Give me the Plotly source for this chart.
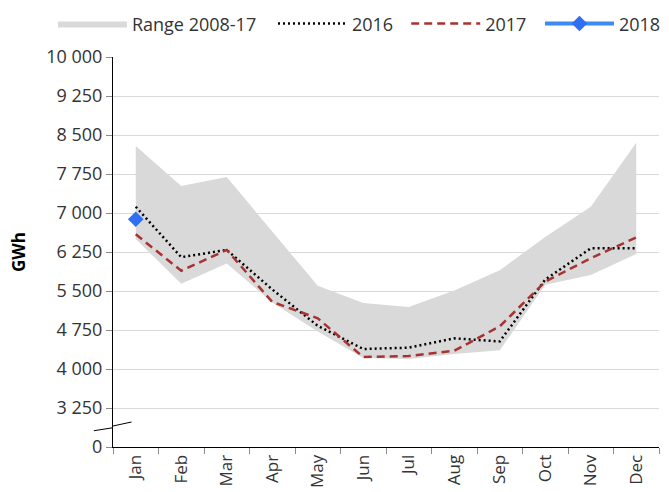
import plotly.graph_objects as go

months = ["Jan", "Feb", "Mar", "Apr", "May", "Jun", "Jul", "Aug", "Sep", "Oct", "Nov", "Dec"]

# range of the previous ten years (GWh)
range_low = [6500, 5640, 6030, 5280, 4720, 4210, 4190, 4290, 4360, 5620, 5810, 6210]
range_high = [8290, 7520, 7690, 6650, 5600, 5270, 5190, 5510, 5900, 6540, 7120, 8350]

y2016 = [7120, 6150, 6290, 5530, 4830, 4385, 4410, 4590, 4530, 5720, 6320, 6320]
y2017 = [6590, 5890, 6290, 5290, 4975, 4230, 4250, 4350, 4820, 5680, 6130, 6530]
y2018 = [6880]

# axis is broken: the bottom gridline is labelled 0
y_tick_values = [2500, 3250, 4000, 4750, 5500, 6250, 7000, 7750, 8500, 9250, 10000]
y_tick_labels = ["0", "3 250", "4 000", "4 750", "5 500", "6 250", "7 000", "7 750", "8 500", "9 250", "10 000"]

textcol = "#333333"
font = "Open Sans"

fig = go.Figure()
fig.add_trace(go.Scatter(x=months, y=range_low, mode="lines", line=dict(width=0, color="#d9d9d9"),
                         showlegend=False, hoverinfo="skip"))
fig.add_trace(go.Scatter(x=months, y=range_high, mode="lines", fill="tonexty", fillcolor="#d9d9d9",
                         line=dict(width=0, color="#d9d9d9"), name="Range 2008-17", legend="legend"))
fig.add_trace(go.Scatter(x=months, y=y2016, mode="lines", name="2016", legend="legend2",
                         line=dict(color="black", width=2.5, dash="2px,3px")))
fig.add_trace(go.Scatter(x=months, y=y2017, mode="lines", name="2017", legend="legend3",
                         line=dict(color="#a83232", width=2.5, dash="8px,5px")))
fig.add_trace(go.Scatter(x=months[:len(y2018)], y=y2018, mode="lines+markers", name="2018", legend="legend4",
                         line=dict(color="#3b8bf0", width=4),
                         marker=dict(symbol="diamond", size=12, color="#2f6ff2")))

# axis break marks
fig.add_shape(type="line", xref="paper", yref="y", x0=-0.035, y0=2813, x1=0.0, y1=2871,
              line=dict(color="black", width=1))
fig.add_shape(type="line", xref="paper", yref="y", x0=0.0, y0=2904, x1=0.034, y1=2981,
              line=dict(color="black", width=1))


def leg(x):
    return dict(orientation="h", x=x, xanchor="left", y=1.085, yanchor="middle",
                font=dict(size=18, color=textcol), itemwidth=69, bgcolor="rgba(0,0,0,0)")


fig.update_layout(
    width=669, height=492,
    margin=dict(l=113, r=10, t=57, b=45, autoexpand=False),
    paper_bgcolor="white", plot_bgcolor="white",
    font=dict(family=font, size=18, color=textcol),
    legend=leg(-0.11), legend2=leg(0.293), legend3=leg(0.537), legend4=leg(0.782),
    showlegend=True,
)
fig.update_xaxes(type="category", range=[-0.5, 11.5], showline=True, linecolor="black", linewidth=1,
                 ticks="outside", tickson="boundaries", ticklen=6, tickcolor="#8c8c8c",
                 tickangle=-90, showgrid=False, tickfont=dict(size=17, color=textcol))
fig.update_yaxes(range=[2500, 10000], tickvals=y_tick_values, ticktext=y_tick_labels,
                 showline=True, linecolor="black", linewidth=1, ticks="outside", ticklen=6,
                 tickcolor="#8c8c8c", showgrid=True, gridcolor="#d9d9d9", gridwidth=1,
                 zeroline=False, tickfont=dict(size=18, color=textcol),
                 title=dict(text="<b>GWh</b>", font=dict(size=17, color="black"), standoff=16))

fig.write_html("out.html", config={"displayModeBar": False},
               post_script="document.body.style.margin='0';")
